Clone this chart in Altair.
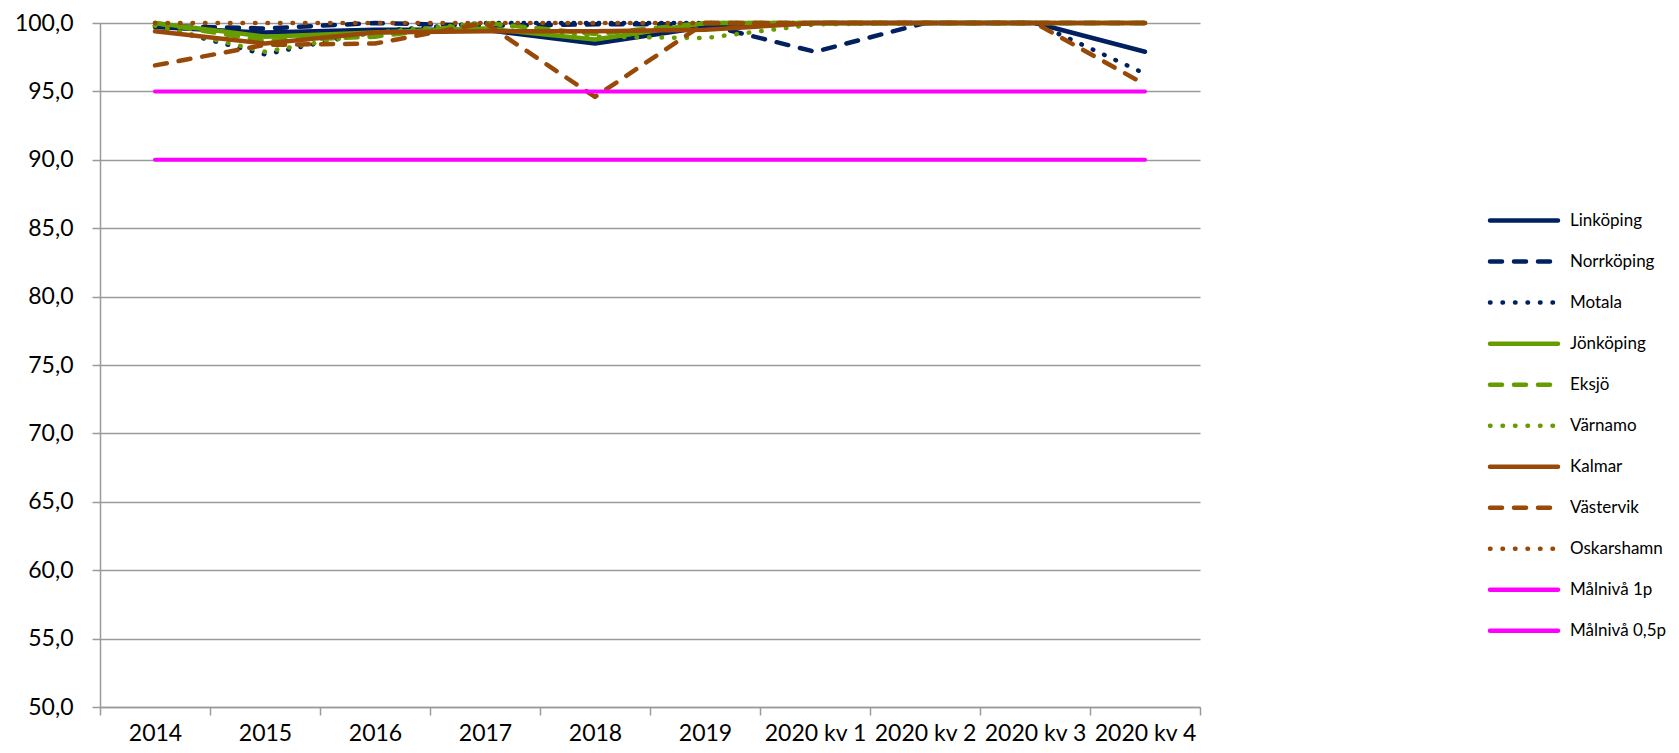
import altair as alt
import pandas as pd

cats = ["2014", "2015", "2016", "2017", "2018", "2019",
        "2020 kv 1", "2020 kv 2", "2020 kv 3", "2020 kv 4"]

names = ["Linköping", "Norrköping", "Motala", "Jönköping", "Eksjö", "Värnamo",
         "Kalmar", "Västervik", "Oskarshamn", "Målnivå 1p", "Målnivå 0,5p"]

linkoping = [99.7, 99.3, 99.5, 99.5, 98.5, 99.7, 100.0, 100.0, 100.0, 97.9]
norrkoping = [99.8, 99.6, 100.0, 99.8, 99.9, 99.9, 97.9, 100.0, 100.0, 100.0]
motala = [99.8, 97.7, 99.4, 100.0, 100.0, 100.0, 100.0, 100.0, 100.0, 96.3]
jonkoping = [100.0, 99.0, 99.3, 99.6, 98.8, 100.0, 100.0, 100.0, 100.0, 100.0]
eksjo = [100.0, 98.7, 99.0, 100.0, 99.2, 100.0, 100.0, 100.0, 100.0, 100.0]
varnamo = [99.8, 97.9, 99.3, 100.0, 99.0, 98.9, 99.9, 100.0, 100.0, 100.0]
kalmar = [99.4, 98.5, 99.3, 99.4, 99.4, 99.5, 100.0, 100.0, 100.0, 100.0]
vastervik = [96.9, 98.4, 98.5, 100.0, 94.6, 100.0, 100.0, 100.0, 100.0, 95.5]
oskarshamn = [100.0, 100.0, 100.0, 100.0, 100.0, 100.0, 100.0, 100.0, 100.0, 100.0]
malniva_1p = [95.0, 95.0, 95.0, 95.0, 95.0, 95.0, 95.0, 95.0, 95.0, 95.0]
malniva_05p = [90.0, 90.0, 90.0, 90.0, 90.0, 90.0, 90.0, 90.0, 90.0, 90.0]

series_values = [linkoping, norrkoping, motala, jonkoping, eksjo, varnamo,
                 kalmar, vastervik, oskarshamn, malniva_1p, malniva_05p]

NAVY = "#002060"
GREEN = "#669c00"
BROWN = "#984807"
MAGENTA = "#ff00ff"
SOLID = [1, 0]
DASH = [12, 12]
DOT = [0.5, 12]
colors = [NAVY, NAVY, NAVY, GREEN, GREEN, GREEN, BROWN, BROWN, BROWN, MAGENTA, MAGENTA]
dashes = [SOLID, DASH, DOT, SOLID, DASH, DOT, SOLID, DASH, DOT, SOLID, SOLID]

rows = []
for name, vals in zip(names, series_values):
    for c, v in zip(cats, vals):
        rows.append({"series": name, "cat": c, "value": v})
df = pd.DataFrame(rows)

GRID = "#9a9a9a"
FONT = "Lato"

x_axis = alt.Axis(title=None, labelAngle=0, tickBand="extent", grid=False,
                  domainColor=GRID, domainWidth=1.5, tickColor=GRID, tickWidth=1.5,
                  tickSize=8, labelPadding=7, labelFont=FONT, labelFontSize=23,
                  labelColor="black")
y_axis = alt.Axis(title=None, values=list(range(50, 101, 5)),
                  labelExpr="replace(format(datum.value, '.1f'), '.', ',')",
                  grid=True, gridColor=GRID, gridWidth=1.5, domainColor=GRID,
                  domainWidth=1.5, tickColor=GRID, tickWidth=1.5, tickSize=8,
                  labelPadding=19, labelFont=FONT, labelFontSize=23, labelColor="black")

X = alt.X("cat:N", sort=cats,
          scale=alt.Scale(type="band", paddingInner=0, paddingOuter=0), axis=x_axis)
Y = alt.Y("value:Q", scale=alt.Scale(domain=[50, 100], nice=False, zero=False), axis=y_axis)

layers = []
for name, col, dsh in zip(names, colors, dashes):
    width = 4 if col == MAGENTA else 4.5
    mark_kwargs = dict(color=col, strokeWidth=width, strokeCap="round", strokeJoin="round")
    if dsh != SOLID:
        mark_kwargs["strokeDash"] = dsh
    layers.append(
        alt.Chart(df).transform_filter(alt.datum.series == name)
        .mark_line(**mark_kwargs).encode(x=X, y=Y)
    )
main = alt.layer(*layers)

leg_df = pd.DataFrame({"series": names, "a": [0] * len(names), "b": [1] * len(names)})
LX = alt.Scale(domain=[0, 1], range=[1390, 1458])
LY = alt.Scale(type="point", domain=names, range=[197.6, 607.7], padding=0)
color_enc = alt.Color("series:N", scale=alt.Scale(domain=names, range=colors), legend=None)
dash_enc = alt.StrokeDash("series:N", scale=alt.Scale(domain=names, range=dashes), legend=None)

leg_lines = alt.Chart(leg_df).mark_rule(strokeWidth=4.5, strokeCap="round").encode(
    x=alt.X("a:Q", scale=LX, axis=None), x2="b:Q",
    y=alt.Y("series:N", scale=LY, axis=None),
    color=color_enc, strokeDash=dash_enc)
leg_text = alt.Chart(leg_df).mark_text(align="left", baseline="middle", dx=12,
                                       font=FONT, fontSize=17, color="black").encode(
    x=alt.X("b:Q", scale=LX, axis=None),
    y=alt.Y("series:N", scale=LY, axis=None),
    text="series:N")
legend = alt.layer(leg_lines, leg_text)

chart = alt.layer(main, legend).resolve_scale(
    x="independent", y="independent", color="independent", strokeDash="independent"
).properties(
    width=1100, height=684,
    autosize=alt.AutoSizeParams(type="none"),
    padding={"left": 92, "top": 15, "right": 471, "bottom": 40},
).configure_view(stroke=None)

chart.save("out.html", embed_options={"renderer": "svg", "actions": False})
